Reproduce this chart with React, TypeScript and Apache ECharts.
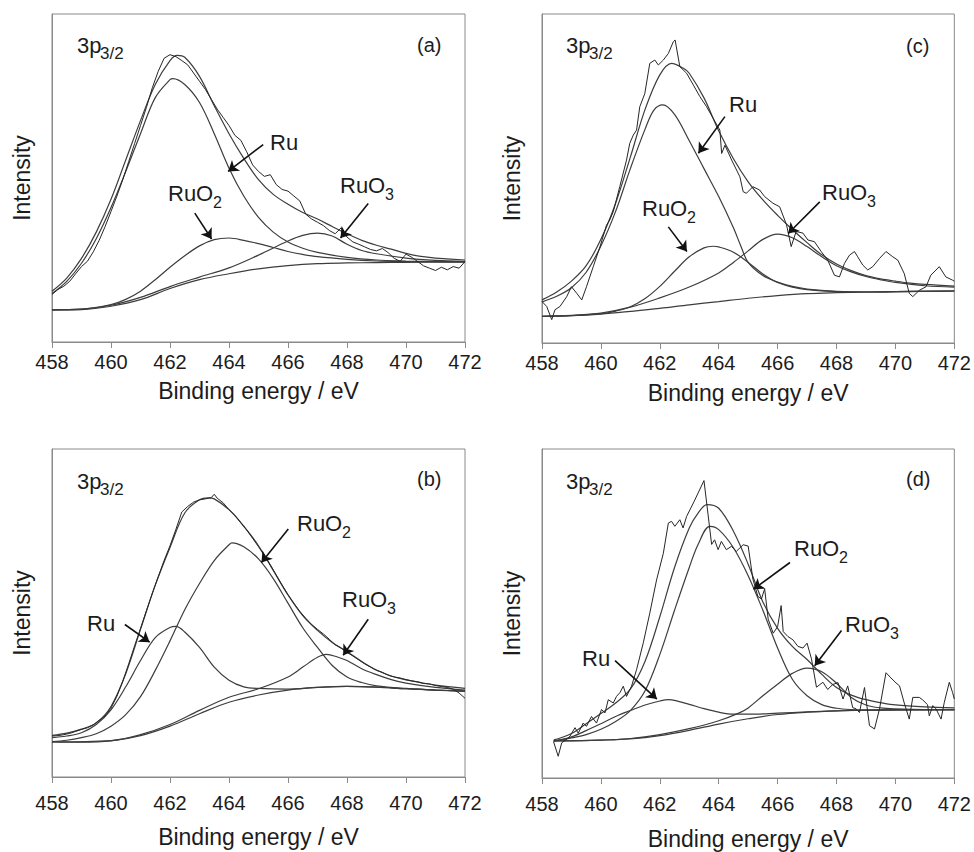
import React, { useEffect, useRef } from "react";
import * as echarts from "echarts";

const FONT = "'Liberation Sans', Arial, Helvetica, sans-serif";
const X_MIN = 458;
const X_MAX = 472;
const X_STEP = 2;
const X_NAME = "Binding energy / eV";
const Y_NAME = "Intensity";

// ---------- Panel (a) ----------
const aBg = [[458,9.8],[459,9.9],[460,10.9],[461,12.9],[462,16.3],[463,19.0],[464,20.8],[465,22.3],[466,23.3],[467,23.9],[468,24.1],[469,24.2],[470,24.3],[471,24.4],[472,24.4]];
const aRu = [[458,14.8],[458.5,18.5],[459,24.0],[459.5,31.5],[460,41.0],[460.5,52.0],[461,63.5],[461.5,74.5],[462,80.0],[462.1,80.3],[462.5,78.5],[463,73.0],[463.5,63.5],[464,53.0],[464.5,44.5],[465,38.0],[465.5,33.5],[466,30.5],[466.5,28.6],[467,27.3],[468,25.8],[469,25.0],[470,24.7],[471,24.5],[472,24.4]];
const aRuO2 = [[458,9.8],[459,10.0],[460,11.4],[460.5,13.0],[461,15.5],[461.5,19.0],[462,22.8],[462.5,26.3],[463,29.3],[463.5,31.2],[464,31.7],[464.5,31.0],[465,30.0],[465.5,28.8],[466,27.6],[466.5,26.7],[467,26.0],[468,25.2],[469,24.7],[470,24.5],[471,24.4],[472,24.4]];
const aRuO3 = [[458,9.8],[459,10.0],[460,11.2],[461,13.6],[462,16.9],[463,19.8],[464,22.6],[465,26.5],[466,30.8],[466.5,32.5],[467,33.2],[467.5,32.3],[468,29.8],[468.5,27.9],[469,26.9],[470,25.6],[471,24.9],[472,24.6]];
const aEnv = [[458,15.5],[458.5,19.5],[459,25.5],[459.5,33.5],[460,43.5],[460.5,55.5],[461,67.5],[461.5,78.5],[462,85.8],[462.25,87.4],[462.5,86.8],[463,81.0],[463.5,72.0],[464,63.5],[464.5,56.0],[465,49.5],[465.5,45.0],[466,42.0],[466.5,39.5],[467,37.5],[467.5,35.2],[468,33.0],[468.5,31.0],[469,29.5],[469.5,28.3],[470,27.0],[470.5,26.1],[471,25.6],[472,25.0]];
const aRaw = [[458.0,14.5],[458.2,16.0],[458.4,17.0],[458.6,18.5],[458.8,20.8],[459.0,23.0],[459.2,24.6],[459.4,27.5],[459.6,31.0],[459.8,35.2],[460.0,39.8],[460.2,44.5],[460.4,49.5],[460.6,55.0],[460.8,60.5],[461.0,66.0],[461.2,71.5],[461.4,77.5],[461.6,82.5],[461.8,86.5],[462.0,87.6],[462.2,87.0],[462.4,85.8],[462.6,84.5],[462.8,82.0],[463.0,79.5],[463.2,77.0],[463.4,74.0],[463.6,71.0],[463.8,68.5],[464.0,66.0],[464.2,63.0],[464.4,61.5],[464.6,58.0],[464.8,54.0],[465.0,52.0],[465.2,50.5],[465.4,51.0],[465.6,48.0],[465.8,46.5],[466.0,46.0],[466.2,44.5],[466.4,43.0],[466.6,39.0],[466.8,37.5],[467.0,36.5],[467.2,35.5],[467.4,34.0],[467.6,33.0],[467.8,34.8],[468.0,32.0],[468.2,30.5],[468.4,29.8],[468.6,29.0],[468.8,28.2],[469.0,27.8],[469.2,28.5],[469.4,27.2],[469.6,25.5],[469.8,24.6],[470.0,26.8],[470.2,25.8],[470.4,24.5],[470.6,23.2],[470.8,22.5],[471.0,21.8],[471.2,22.8],[471.4,22.0],[471.6,23.0],[471.8,22.5],[472.0,24.5]];
const aArrows = [[[465.16,60.2],[463.97,52.0]],[[462.84,39.3],[463.41,31.4]],[[468.72,42.2],[467.78,31.7]]];

// ---------- Panel (c) ----------
const cBg = [[458,8.1],[459,8.3],[460,8.8],[461,9.6],[462,10.5],[463,11.6],[464,12.6],[465,13.6],[466,14.4],[467,15.0],[468,15.3],[469,15.5],[470,15.6],[472,15.8]];
const cRu = [[458,12.5],[458.5,14.2],[459,16.8],[459.5,21.5],[460,29.5],[460.5,40.0],[461,53.0],[461.5,65.0],[461.8,70.8],[462.1,72.4],[462.5,69.5],[463,61.5],[463.5,53.0],[464,44.5],[464.5,35.0],[464.75,29.5],[465,24.5],[465.5,20.5],[466,18.5],[466.5,17.2],[467,16.4],[468,15.7],[469,15.5],[470,15.6],[472,15.8]];
const cRuO2 = [[458,8.1],[459,8.3],[460,8.9],[460.5,9.7],[461,11.0],[461.5,13.5],[462,17.2],[462.5,21.8],[463,26.2],[463.5,28.9],[463.8,29.4],[464,29.2],[464.5,27.6],[465,24.5],[465.5,21.0],[466,18.4],[466.5,17.0],[467,16.2],[468,15.6],[469,15.5],[470,15.6],[472,15.8]];
const cRuO3 = [[458,8.1],[459,8.4],[460,9.1],[461,10.9],[462,13.7],[463,17.0],[464,21.3],[464.5,24.5],[465,28.0],[465.5,31.5],[466,33.1],[466.5,32.0],[467,29.3],[467.5,26.2],[468,23.5],[468.5,21.6],[469,20.2],[469.5,19.2],[470,18.4],[471,17.4],[472,17.0]];
const cEnv = [[458,13.1],[458.5,15.5],[459,18.8],[459.5,23.5],[460,31.5],[460.5,42.5],[461,56.5],[461.5,71.0],[462,81.5],[462.4,85.0],[462.8,83.5],[463,82.0],[463.5,74.5],[464,64.5],[464.5,56.0],[465,49.0],[465.5,43.5],[466,38.8],[466.5,34.5],[467,30.5],[467.5,26.8],[468,24.0],[468.5,22.0],[469,20.5],[469.5,19.5],[470,18.8],[470.5,18.2],[471,17.8],[472,17.3]];
const cRaw = [[458.0,12.6],[458.16,11.1],[458.33,7.1],[458.44,10.1],[458.61,11.1],[458.84,14.1],[459.0,17.1],[459.18,15.1],[459.35,13.1],[459.51,17.1],[459.74,23.2],[459.97,29.3],[460.19,35.8],[460.3,37.4],[460.42,39.9],[460.64,47.5],[460.87,55.6],[460.98,60.7],[461.1,63.2],[461.21,64.7],[461.32,71.8],[461.49,75.8],[461.66,85.0],[461.83,86.0],[461.95,84.5],[462.12,86.0],[462.29,88.0],[462.46,91.6],[462.52,92.1],[462.68,84.0],[462.91,82.0],[463.14,78.4],[463.36,74.9],[463.59,71.8],[463.81,68.3],[464.04,64.7],[464.1,57.6],[464.21,60.1],[464.44,55.6],[464.72,50.5],[464.83,46.0],[464.94,45.5],[465.16,47.5],[465.39,46.5],[465.56,44.5],[465.84,42.5],[466.07,41.4],[466.3,36.0],[466.46,29.3],[466.63,33.9],[466.86,33.4],[467.03,31.3],[467.25,30.8],[467.48,27.8],[467.7,25.2],[467.93,20.6],[468.1,20.1],[468.27,24.2],[468.44,26.7],[468.61,27.8],[468.72,26.2],[468.89,23.7],[469.06,22.2],[469.23,23.2],[469.46,25.7],[469.68,27.8],[469.91,26.2],[470.08,25.2],[470.3,21.1],[470.47,15.1],[470.59,14.1],[470.81,16.0],[471.04,17.1],[471.2,20.6],[471.49,23.2],[471.71,20.1],[471.94,19.1],[472.0,18.8]];
const cArrows = [[[464.21,68.8],[463.31,57.7]],[[462.29,35.3],[462.92,27.8]],[[467.43,42.9],[466.36,33.3]]];

// ---------- Panel (b) ----------
const bBg = [[458,10.7],[459,10.6],[460,11.0],[461,12.6],[462,15.5],[463,19.3],[464,22.8],[465,25.0],[466,26.5],[467,27.3],[468,27.6],[469,27.4],[470,26.9],[471,26.5],[472,26.2]];
const bRu = [[458,12.0],[458.5,12.5],[459,13.5],[459.5,16.0],[460,20.5],[460.5,27.5],[461,35.5],[461.5,42.5],[462,45.6],[462.2,45.9],[462.5,44.2],[463,39.5],[463.5,33.5],[464,29.5],[464.5,27.5],[465,27.0],[466,26.8],[467,27.3],[468,27.6],[469,27.4],[470,26.9],[471,26.5],[472,26.2]];
const bRuO2 = [[458,10.8],[458.5,11.2],[459,12.0],[459.5,13.2],[460,15.5],[460.5,19.0],[461,24.5],[461.5,32.5],[462,41.5],[462.5,51.0],[463,59.0],[463.5,66.0],[464,70.8],[464.1,71.4],[464.5,70.2],[465,66.5],[465.5,60.5],[466,53.0],[466.5,45.5],[467,39.5],[467.5,34.0],[468,30.5],[468.5,28.8],[469,27.8],[470,27.0],[471,26.5],[472,26.2]];
const bRuO3 = [[458,10.7],[460,11.1],[461,12.9],[462,16.0],[463,20.3],[464,24.3],[465,26.9],[466,30.5],[466.5,33.5],[467,36.5],[467.3,37.4],[467.7,36.5],[468,35.5],[468.5,33.0],[469,31.2],[469.5,29.7],[470,28.6],[471,27.3],[472,26.5]];
const bEnv = [[458,12.7],[458.5,13.4],[459,14.6],[459.5,16.5],[460,21.5],[460.5,31.5],[461,45.0],[461.5,58.5],[462,70.0],[462.5,80.5],[463,84.5],[463.3,85.1],[463.5,84.8],[464,81.5],[464.5,76.5],[465,70.5],[465.5,63.0],[466,55.5],[466.5,49.2],[467,44.7],[467.5,41.0],[468,38.2],[468.5,35.2],[469,32.6],[469.5,30.8],[470,29.6],[470.5,28.8],[471,28.0],[472,27.0]];
const bRaw = [[458.0,12.5],[458.2,12.6],[458.4,12.9],[458.6,13.3],[458.8,13.9],[459.0,14.5],[459.2,15.0],[459.4,15.9],[459.6,17.3],[459.8,18.6],[460.0,21.0],[460.2,24.6],[460.4,29.2],[460.6,34.5],[460.8,40.0],[461.0,45.3],[461.2,50.7],[461.4,56.0],[461.6,61.0],[461.8,66.0],[462.0,70.5],[462.2,75.5],[462.4,80.8],[462.6,82.5],[462.8,83.8],[463.0,84.5],[463.2,84.8],[463.4,85.2],[463.5,86.2],[463.6,85.0],[463.8,83.6],[464.0,81.5],[464.2,79.8],[464.4,77.5],[464.6,75.3],[464.8,72.8],[465.0,70.2],[465.2,67.5],[465.4,64.7],[465.6,61.6],[465.8,58.5],[466.0,55.6],[466.2,53.0],[466.4,50.5],[466.6,48.4],[466.8,46.5],[467.0,45.0],[467.2,43.6],[467.4,42.0],[467.6,40.3],[467.8,39.3],[468.0,38.0],[468.2,36.9],[468.4,35.7],[468.6,34.5],[468.8,33.5],[469.0,32.5],[469.2,31.9],[469.4,31.0],[469.6,30.5],[469.8,30.2],[470.0,29.7],[470.2,29.3],[470.4,29.0],[470.6,28.5],[470.8,28.4],[471.0,27.9],[471.2,27.6],[471.4,27.3],[471.6,26.8],[471.8,25.6],[472.0,24.0]];
const bArrows = [[[460.47,46.5],[461.31,41.1]],[[466.01,75.6],[465.1,65.4]],[[468.72,48.1],[467.87,37.1]]];

// ---------- Panel (d) ----------
const dBg = [[458.4,11.3],[459,11.3],[460,11.5],[461,11.9],[462,12.9],[463,14.5],[464,16.4],[465,18.0],[466,19.3],[467,20.0],[468,20.4],[469,20.6],[470,20.7],[472,20.8]];
const dRu = [[458.4,11.3],[458.6,11.6],[459,12.5],[459.5,14.4],[460,16.5],[460.5,18.7],[461,20.5],[461.5,22.2],[462,23.4],[462.3,23.8],[462.5,23.6],[463,22.4],[463.5,21.1],[464,20.0],[464.5,19.4],[465,19.4],[466,19.7],[467,20.1],[468,20.4],[469,20.6],[470,20.7],[472,20.8]];
const dRuO2 = [[458.4,11.3],[458.6,11.5],[459,12.2],[459.5,13.2],[460,14.8],[460.5,17.2],[461,20.5],[461.5,26.5],[462,37.5],[462.5,51.0],[463,64.0],[463.3,71.0],[463.7,76.5],[464,75.5],[464.5,70.0],[465,61.5],[465.5,51.0],[466,39.5],[466.5,30.0],[467,25.0],[467.5,22.3],[468,21.2],[468.5,20.8],[469,20.7],[470,20.7],[472,20.8]];
const dRuO3 = [[458.4,11.3],[460,11.5],[461,12.0],[462,13.2],[463,15.0],[464,17.4],[464.7,19.8],[465,21.3],[465.5,25.0],[466,28.5],[466.5,31.8],[467,33.4],[467.5,32.3],[468,28.8],[468.5,24.5],[469,22.2],[469.5,21.3],[470,21.0],[471,20.8],[472,20.8]];
const dEnv = [[458.4,11.6],[458.6,12.1],[459,13.5],[459.5,16.5],[460,19.6],[460.5,22.8],[461,27.0],[461.5,35.5],[462,49.0],[462.5,64.0],[463,76.0],[463.3,80.5],[463.6,83.1],[464,82.0],[464.5,75.0],[465,65.0],[465.5,53.5],[466,45.5],[466.5,40.0],[467,36.0],[467.5,31.5],[468,27.5],[468.5,25.2],[469,23.8],[469.5,22.9],[470,22.2],[471,21.6],[472,21.3]];
const dRaw = [[458.39,11.1],[458.55,6.6],[458.67,10.7],[458.8,11.5],[458.95,12.7],[459.12,15.3],[459.23,13.6],[459.4,16.7],[459.51,15.7],[459.68,18.7],[459.85,16.7],[460.02,20.8],[460.14,19.8],[460.25,23.8],[460.42,22.8],[460.53,24.8],[460.65,26.0],[460.76,27.9],[460.87,24.8],[461.04,27.9],[461.21,32.9],[461.44,41.1],[461.66,50.1],[461.89,60.2],[462.12,68.3],[462.29,77.5],[462.4,78.0],[462.51,76.5],[462.68,78.5],[462.79,76.0],[462.91,79.5],[463.14,83.6],[463.3,86.6],[463.5,90.4],[463.76,71.0],[463.86,72.4],[463.98,69.4],[464.09,71.9],[464.26,69.4],[464.43,70.4],[464.6,68.9],[464.83,70.9],[465.0,70.5],[465.16,60.5],[465.33,55.2],[465.45,54.4],[465.56,57.5],[465.68,48.3],[465.85,44.0],[466.0,46.0],[466.12,52.4],[466.19,44.5],[466.35,43.0],[466.52,42.0],[466.69,40.0],[466.86,39.5],[467.0,41.0],[467.15,36.2],[467.32,27.6],[467.54,29.1],[467.7,26.9],[467.87,28.4],[468.05,29.0],[468.22,24.0],[468.38,28.0],[468.55,21.4],[468.67,21.0],[468.78,19.9],[468.95,27.5],[469.12,15.9],[469.29,14.9],[469.46,21.0],[469.68,32.0],[469.85,30.4],[470.02,28.9],[470.14,28.0],[470.3,22.8],[470.47,17.9],[470.59,24.5],[470.81,24.5],[470.92,23.8],[471.09,22.3],[471.15,18.9],[471.27,22.0],[471.38,21.0],[471.55,17.9],[471.66,23.0],[471.83,29.1],[471.94,26.0],[472.0,24.0]];
const dArrows = [[[466.42,65.5],[465.18,57.4]],[[468.17,44.8],[467.26,34.1]],[[460.48,35.7],[461.9,24.0]]];

// ---------- layout ----------
const panels = [
  { tag: "(a)", bg: aBg, ru: aRu, ruo2: aRuO2, ruo3: aRuO3, env: aEnv, raw: aRaw, arrows: aArrows,
    grid: { left: 52, top: 14, width: 413, height: 328 }, labelMargin: 10, nameGap: 37,
    tagPos: [417, 45], specPos: [77, 45],
    labels: [{ t: "Ru", s: "", x: 270, y: 142 }, { t: "RuO", s: "2", x: 168, y: 193 }, { t: "RuO", s: "3", x: 340, y: 185 }] },
  { tag: "(c)", bg: cBg, ru: cRu, ruo2: cRuO2, ruo3: cRuO3, env: cEnv, raw: cRaw, arrows: cArrows,
    grid: { left: 542, top: 14, width: 413, height: 329 }, labelMargin: 10, nameGap: 38,
    tagPos: [906, 46], specPos: [566, 45],
    labels: [{ t: "Ru", s: "", x: 729, y: 104 }, { t: "RuO", s: "2", x: 642, y: 208 }, { t: "RuO", s: "3", x: 822, y: 192 }] },
  { tag: "(b)", bg: bBg, ru: bRu, ruo2: bRuO2, ruo3: bRuO3, env: bEnv, raw: bRaw, arrows: bArrows,
    grid: { left: 52, top: 449, width: 413, height: 328 }, labelMargin: 16, nameGap: 48,
    tagPos: [417, 479], specPos: [77, 481],
    labels: [{ t: "Ru", s: "", x: 87, y: 623 }, { t: "RuO", s: "2", x: 297, y: 523 }, { t: "RuO", s: "3", x: 342, y: 599 }] },
  { tag: "(d)", bg: dBg, ru: dRu, ruo2: dRuO2, ruo3: dRuO3, env: dEnv, raw: dRaw, arrows: dArrows,
    grid: { left: 542, top: 449, width: 413, height: 329 }, labelMargin: 16, nameGap: 49,
    tagPos: [906, 479], specPos: [566, 481],
    labels: [{ t: "RuO", s: "2", x: 794, y: 548 }, { t: "RuO", s: "3", x: 845, y: 624 }, { t: "Ru", s: "", x: 582, y: 658 }] },
];

const FRAME = "#8a8a8a";
const CURVE = "#3d3d3d";
const RAW = "#262626";
const TEXT = "#1c1c1c";

function textEl(x: number, y: number, text: string, size: number) {
  return {
    type: "text",
    x,
    y,
    silent: true,
    style: {
      text,
      fontSize: size,
      fontFamily: FONT,
      fill: TEXT,
      align: "left",
      verticalAlign: "middle",
      textAlign: "left",
      textVerticalAlign: "middle",
    },
  };
}

function buildOption() {
  const grid: any[] = [];
  const xAxis: any[] = [];
  const yAxis: any[] = [];
  const series: any[] = [];
  const graphic: any[] = [];

  panels.forEach((p, i) => {
    grid.push({ ...p.grid, show: true, borderColor: FRAME, borderWidth: 1, backgroundColor: "transparent" });
    xAxis.push({
      type: "value",
      gridIndex: i,
      min: X_MIN,
      max: X_MAX,
      interval: X_STEP,
      name: X_NAME,
      nameLocation: "middle",
      nameGap: p.nameGap,
      nameTextStyle: { fontSize: 23, fontFamily: FONT, color: TEXT },
      axisLine: { show: true, lineStyle: { color: FRAME, width: 1 } },
      axisTick: { show: true, inside: false, length: 6, lineStyle: { color: FRAME } },
      axisLabel: { fontSize: 20, fontFamily: FONT, color: TEXT, margin: p.labelMargin },
      splitLine: { show: false },
    });
    yAxis.push({
      type: "value",
      gridIndex: i,
      min: 0,
      max: 100,
      name: Y_NAME,
      nameLocation: "middle",
      nameGap: 19,
      nameRotate: 90,
      nameTextStyle: { fontSize: 23, fontFamily: FONT, color: TEXT },
      axisLine: { show: true, lineStyle: { color: FRAME, width: 1 } },
      axisTick: { show: false },
      axisLabel: { show: false },
      splitLine: { show: false },
    });

    const fits = [p.bg, p.ruo3, p.ruo2, p.ru, p.env];
    fits.forEach((d, k) => {
      const s: any = {
        type: "line",
        xAxisIndex: i,
        yAxisIndex: i,
        data: d,
        smooth: 0.35,
        showSymbol: false,
        symbol: "none",
        silent: true,
        lineStyle: { color: CURVE, width: 1.2 },
        z: 2,
      };
      if (k === 0) {
        s.markLine = {
          silent: true,
          symbol: ["none", "arrow"],
          symbolSize: 10,
          label: { show: false },
          lineStyle: { color: "#111", width: 1.6, type: "solid" },
          data: p.arrows.map((ar: number[][]) => [{ coord: ar[0] }, { coord: ar[1] }]),
        };
      }
      series.push(s);
    });
    series.push({
      type: "line",
      xAxisIndex: i,
      yAxisIndex: i,
      data: p.raw,
      smooth: false,
      showSymbol: false,
      symbol: "none",
      silent: true,
      lineStyle: { color: RAW, width: 1 },
      z: 3,
    });

    graphic.push(textEl(p.specPos[0], p.specPos[1], "3p", 22));
    graphic.push(textEl(p.specPos[0] + 23, p.specPos[1] + 8, "3/2", 17));
    graphic.push(textEl(p.tagPos[0], p.tagPos[1], p.tag, 20));
    p.labels.forEach((l) => {
      graphic.push(textEl(l.x, l.y, l.t, 22));
      if (l.s) graphic.push(textEl(l.x + 45, l.y + 9, l.s, 16));
    });
  });

  return {
    animation: false,
    backgroundColor: "#ffffff",
    grid,
    xAxis,
    yAxis,
    series,
    graphic,
  };
}

export default function App() {
  const ref = useRef<HTMLDivElement>(null);
  useEffect(() => {
    if (!ref.current) return;
    const chart = echarts.init(ref.current, undefined, { renderer: "svg" });
    chart.setOption(buildOption() as any);
    return () => chart.dispose();
  }, []);
  return (
    <div
      ref={ref}
      style={{ position: "absolute", left: 0, top: 0, width: 974, height: 852, background: "#fff" }}
    />
  );
}
